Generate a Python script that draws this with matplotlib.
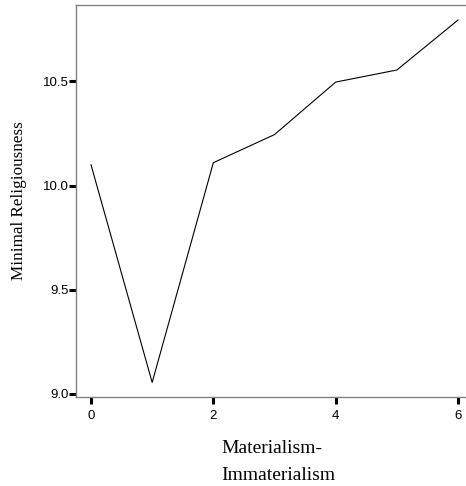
import matplotlib
matplotlib.use("Agg")
import matplotlib.pyplot as plt

# mean minimal religiousness per materialism-immaterialism score
scores = [0, 1, 2, 3, 4, 5, 6]
religiousness = [10.10, 9.055, 10.11, 10.245, 10.497, 10.555, 10.795]

x_ticks = [0, 2, 4, 6]
y_ticks = [9.0, 9.5, 10.0, 10.5]

fig = plt.figure(figsize=(4.66, 4.86), dpi=100)
ax = fig.add_axes([0.1631, 0.1831, 0.8369, 0.8066])

ax.plot(scores, religiousness, color="black", linewidth=0.8)

ax.set_xlim(-0.245, 6.13)
ax.set_ylim(8.985, 10.867)
ax.set_xticks(x_ticks)
ax.set_yticks(y_ticks)
ax.set_xticklabels([str(t) for t in x_ticks], family="Liberation Sans", fontsize=9.5)
ax.set_yticklabels(["%.1f" % t for t in y_ticks], family="Liberation Sans", fontsize=9.5)

ax.tick_params(axis="x", length=5, width=2.2, color="black", pad=4)
ax.tick_params(axis="y", length=5, width=2.2, color="black", pad=0)

for side in ["left", "top", "bottom"]:
    ax.spines[side].set_color("#808080")
    ax.spines[side].set_linewidth(1.0)
ax.spines["right"].set_visible(False)

ax.set_ylabel("Minimal Religiousness", family="Liberation Serif", fontsize=12.3, labelpad=12)
fig.text(278 / 466, 1 - 462 / 486, "Materialism-\nImmaterialism", family="Liberation Serif",
         fontsize=14, ha="center", va="center", multialignment="left", linespacing=1.8)

fig.savefig("out.png", dpi=100)
